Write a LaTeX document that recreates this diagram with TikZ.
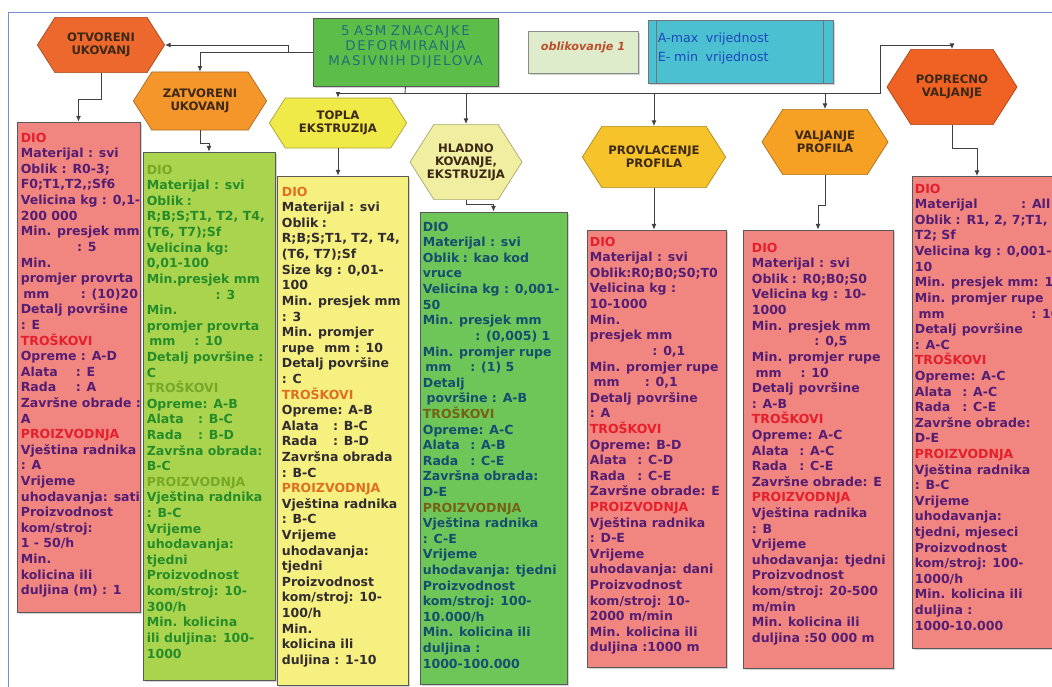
\documentclass[tikz,border=0pt]{standalone}
\usepackage{fontspec}
\setmainfont{DejaVu Sans}
\usetikzlibrary{arrows.meta, shapes.symbols, fit, shadows}
\definecolor{pinkbox}{RGB}{241,133,128}
\definecolor{pinktext}{RGB}{85,30,115}
\definecolor{pinkhead}{RGB}{228,32,45}
\definecolor{limebox}{RGB}{170,212,78}
\definecolor{limetext}{RGB}{38,140,42}
\definecolor{limehead}{RGB}{120,168,40}
\definecolor{yellowbox}{RGB}{246,240,128}
\definecolor{yellowtext}{RGB}{48,44,48}
\definecolor{yellowhead}{RGB}{222,112,32}
\definecolor{greenbox}{RGB}{110,198,88}
\definecolor{greentext}{RGB}{22,78,112}
\definecolor{greenhead}{RGB}{118,98,22}
\definecolor{maingreen}{RGB}{92,190,72}
\definecolor{maintext}{RGB}{34,112,118}
\definecolor{oblbox}{RGB}{222,236,204}
\definecolor{obltext}{RGB}{188,78,44}
\definecolor{keybox}{RGB}{74,192,208}
\definecolor{keytext}{RGB}{30,72,190}
\definecolor{hextext}{RGB}{60,40,20}
\definecolor{otvcol}{RGB}{236,104,44}
\definecolor{zatcol}{RGB}{245,150,42}
\definecolor{toplacol}{RGB}{240,234,72}
\definecolor{hladcol}{RGB}{240,238,160}
\definecolor{provcol}{RGB}{246,196,42}
\definecolor{valjcol}{RGB}{246,160,36}
\definecolor{popcol}{RGB}{240,98,36}
\definecolor{framecol}{RGB}{120,142,205}
\newcommand{\hd}[2]{{\color{#1}#2}}
\newcommand{\lbl}[2][4.1em]{\makebox[#1][l]{#2}}

\begin{document}
\begin{tikzpicture}[x=0.025cm, y=-0.025cm,
  hexa/.style={signal, signal to=east and west, signal pointer angle=115,
    draw=#1!70!black, fill=#1, line width=0.5pt, inner sep=1pt, text=hextext,
    font=\fontsize{8.3}{9.3}\selectfont\bfseries, align=center},
  box/.style={draw=black!65, fill=#1, line width=0.6pt, inner sep=0pt,
    drop shadow={shadow xshift=1.2pt, shadow yshift=-1.2pt, opacity=0.35}},
  dtxt/.style={anchor=north west, inner sep=0pt, align=left,
    font=\fontsize{8.9}{11.1}\selectfont\bfseries},
  conn/.style={draw=black!75, line width=0.6pt},
  arr/.style={conn, -{Latex[length=4pt, width=3.5pt]}}]
\useasboundingbox (0,0) rectangle (1052,686);
\clip (0,0) rectangle (1052,686);
% Frame
\draw[framecol, line width=0.6pt] (8,690) -- (8,12) -- (1060,12);
% Title and keys
\node[box=maingreen, fit={(313,18) (498,86)}, text=maintext,
  font=\fontsize{9.5}{10.7}\selectfont\addfontfeature{LetterSpace=12}, align=center]
  (main) {5 ASM ZNACAJKE\\DEFORMIRANJA\\MASIVNIH DIJELOVA};
\node[box=oblbox, draw=black!45, fit={(528,31) (638,73)}, text=obltext,
  font=\fontsize{8}{9}\selectfont\bfseries\itshape] (obl) {oblikovanje 1};
\node[box=keybox, draw=black!55, fit={(648,20) (833,83)}] (key) {};
\draw[black!55, line width=0.6pt] ([shift={(9,0)}]key.north west) -- ([shift={(9,0)}]key.south west);
\draw[black!55, line width=0.6pt] ([shift={(-10,0)}]key.north east) -- ([shift={(-10,0)}]key.south east);
\node[anchor=north west, inner sep=0pt, align=left, text=keytext,
  font=\fontsize{9}{13.5}\selectfont] (keytxt) at ([shift={(10,13)}]key.north west)
  {A-max\hspace{0.6em}vrijednost\\E-\hspace{0.3em}min\hspace{0.6em}vrijednost};
% Processes
\node[hexa=otvcol, minimum width=3.18cm, minimum height=1.38cm] (otv) at (101,45) {OTVORENI\\UKOVANJ};
\node[hexa=zatcol, minimum width=3.33cm, minimum height=1.45cm] (zat) at (200,101) {ZATVORENI\\UKOVANJ};
\node[hexa=toplacol, minimum width=3.43cm, minimum height=1.25cm] (topla) at (338,123) {TOPLA\\EKSTRUZIJA};
\node[hexa=hladcol, inner xsep=-6pt, minimum width=2.8cm, minimum height=1.88cm] (hlad) at (466,162) {HLADNO\\KOVANJE,\\EKSTRUZIJA};
\node[hexa=provcol, minimum width=3.58cm, minimum height=1.53cm] (prov) at (654,157) {PROVLACENJE\\PROFILA};
\node[hexa=valjcol, minimum width=3.15cm, minimum height=1.63cm] (valj) at (825,142) {VALJANJE\\PROFILA};
\node[hexa=popcol, minimum width=3.25cm, minimum height=1.88cm] (pop) at (952,87) {POPRECNO\\VALJANJE};
% Boxes
\node[box=pinkbox, fit={(17,122) (140,612)}] (b1) {};
\node[box=limebox, fit={(143,152) (275,680)}] (b2) {};
\node[box=yellowbox, fit={(277,176) (408,685)}] (b3) {};
\node[box=greenbox, fit={(420,212) (567,684)}] (b4) {};
\node[box=pinkbox, fit={(587,230) (726,667)}] (b5) {};
\node[box=pinkbox, fit={(743,230) (893,668)}] (b6) {};
\node[box=pinkbox, fit={(912,176) (1080,648)}] (b7) {};
% Texts
\node[dtxt, text=pinktext] (t1) at ([shift={(4,11)}]b1.north west) {
\hd{pinkhead}{DIO}\\
Materijal : svi\\
Oblik : R0-3;\\
F0;T1,T2,;Sf6\\
Velicina kg : 0,1-\\
200 000\\
Min. presjek mm\\
\hspace*{4.5em}: 5\\
Min.\\
promjer provrta\\
\hspace*{0.2em}\lbl[4.6em]{mm}: (10)20\\
Detalj površine\\
: E\\
\hd{pinkhead}{TROŠKOVI}\\
Opreme : A-D\\
\lbl[4.4em]{Alata}: E\\
\lbl[4.4em]{Rada}: A\\
Završne obrade :\\
A\\
\hd{pinkhead}{PROIZVODNJA}\\
Vještina radnika\\
: A\\
Vrijeme\\
uhodavanja: sati\\
Proizvodnost\\
kom/stroj:\\
1 - 50/h\\
Min.\\
kolicina ili\\
duljina (m) : 1};
\node[dtxt, text=limetext] (t2) at ([shift={(4,13)}]b2.north west) {
\hd{limehead}{DIO}\\
Materijal : svi\\
\lbl[3.2em]{Oblik}:\\
R;B;S;T1, T2, T4,\\
(T6, T7);Sf\\
Velicina kg:\\
0,01-100\\
Min.presjek mm\\
\hspace*{5.5em}: 3\\
Min.\\
promjer provrta\\
\hspace*{0.2em}\lbl[3.6em]{mm}: 10\\
Detalj površine :\\
C\\
\hd{limehead}{TROŠKOVI}\\
Opreme: A-B\\
\lbl{Alata}: B-C\\
\lbl{Rada}: B-D\\
Završna obrada:\\
B-C\\
\hd{limehead}{PROIZVODNJA}\\
Vještina radnika\\
: B-C\\
Vrijeme\\
uhodavanja:\\
tjedni\\
Proizvodnost\\
kom/stroj: 10-\\
300/h\\
Min. kolicina\\
ili duljina: 100-\\
1000};
\node[dtxt, text=yellowtext] (t3) at ([shift={(5,11)}]b3.north west) {
\hd{yellowhead}{DIO}\\
Materijal : svi\\
\lbl[3.2em]{Oblik}:\\
R;B;S;T1, T2, T4,\\
(T6, T7);Sf\\
Size kg : 0,01-\\
100\\
Min. presjek mm\\
: 3\\
Min. promjer\\
rupe\hspace*{0.8em}mm : 10\\
Detalj površine\\
: C\\
\hd{yellowhead}{TROŠKOVI}\\
Opreme: A-B\\
\lbl{Alata}: B-C\\
\lbl{Rada}: B-D\\
Završna obrada\\
: B-C\\
\hd{yellowhead}{PROIZVODNJA}\\
Vještina radnika\\
: B-C\\
Vrijeme\\
uhodavanja:\\
tjedni\\
Proizvodnost\\
kom/stroj: 10-\\
100/h\\
Min.\\
kolicina ili\\
duljina : 1-10};
\node[dtxt, text=greentext] (t4) at ([shift={(3,10)}]b4.north west) {
DIO\\
Materijal : svi\\
\lbl[3.2em]{Oblik}: kao kod\\
vruce\\
Velicina kg : 0,001-\\
50\\
Min. presjek mm\\
\hspace*{4.2em}: (0,005) 1\\
Min. promjer rupe\\
\hspace*{0.2em}\lbl[3.6em]{mm}: (1) 5\\
Detalj\\
\hspace*{0.3em}površine : A-B\\
\hd{greenhead}{TROŠKOVI}\\
Opreme: A-C\\
\lbl[3.8em]{Alata}: A-B\\
\lbl[3.8em]{Rada}: C-E\\
Završna obrada:\\
D-E\\
\hd{greenhead}{PROIZVODNJA}\\
Vještina radnika\\
: C-E\\
Vrijeme\\
uhodavanja: tjedni\\
Proizvodnost\\
kom/stroj: 100-\\
10.000/h\\
Min. kolicina ili\\
duljina :\\
1000-100.000};
\node[dtxt, text=pinktext] (t5) at ([shift={(3,7)}]b5.north west) {
\hd{pinkhead}{DIO}\\
Materijal : svi\\
Oblik:R0;B0;S0;T0\\
Velicina kg :\\
10-1000\\
Min.\\
presjek mm\\
\hspace*{5em}: 0,1\\
Min. promjer rupe\\
\hspace*{0.3em}\lbl[4.1em]{mm}: 0,1\\
Detalj\hspace*{0.4em}površine\\
: A\\
\hd{pinkhead}{TROŠKOVI}\\
Opreme: B-D\\
\lbl[3.8em]{Alata}: C-D\\
\lbl[3.8em]{Rada}: C-E\\
Završne obrade: E\\
\hd{pinkhead}{PROIZVODNJA}\\
Vještina radnika\\
: D-E\\
Vrijeme\\
uhodavanja: dani\\
Proizvodnost\\
kom/stroj: 10-\\
2000 m/min\\
Min. kolicina ili\\
duljina :1000 m};
\node[dtxt, text=pinktext] (t6) at ([shift={(9,13)}]b6.north west) {
\hd{pinkhead}{DIO}\\
Materijal : svi\\
\lbl[3.2em]{Oblik}: R0;B0;S0\\
Velicina kg : 10-\\
1000\\
Min. presjek mm\\
\hspace*{5em}: 0,5\\
Min. promjer rupe\\
\hspace*{0.3em}\lbl[3.6em]{mm}: 10\\
Detalj\hspace*{0.4em}površine\\
: A-B\\
\hd{pinkhead}{TROŠKOVI}\\
Opreme: A-C\\
\lbl[3.8em]{Alata}: A-C\\
\lbl[3.8em]{Rada}: C-E\\
Završne obrade: E\\
\hd{pinkhead}{PROIZVODNJA}\\
Vještina radnika\\
: B\\
Vrijeme\\
uhodavanja: tjedni\\
Proizvodnost\\
kom/stroj: 20-500\\
m/min\\
Min. kolicina ili\\
duljina :50 000 m};
\node[dtxt, text=pinktext] (t7) at ([shift={(3,8)}]b7.north west) {
\hd{pinkhead}{DIO}\\
\lbl[8.5em]{Materijal}: All\\
Oblik : R1, 2, 7;T1,\\
T2; Sf\\
Velicina kg : 0,001-\\
10\\
Min. presjek mm: 1\\
Min. promjer rupe\\
\hspace*{0.3em}\lbl[9em]{mm}: 10\\
Detalj\hspace*{0.4em}površine\\
: A-C\\
\hd{pinkhead}{TROŠKOVI}\\
Opreme: A-C\\
\lbl[3.8em]{Alata}: A-C\\
\lbl[3.8em]{Rada}: C-E\\
Završne obrade:\\
D-E\\
\hd{pinkhead}{PROIZVODNJA}\\
Vještina radnika\\
: B-C\\
Vrijeme\\
uhodavanja:\\
tjedni, mjeseci\\
Proizvodnost\\
kom/stroj: 100-\\
1000/h\\
Min. kolicina ili\\
duljina :\\
1000-10.000};
% Title to processes
\coordinate (j1) at (288,52);
\coordinate (bus) at (405,93);
\coordinate (k) at (880,45);
\draw[arr] (main.west) -| (zat.north);
\draw[arr] (j1) |- (otv.east);
\draw[conn] (main.south) -- (bus);
\draw[arr] (bus) -| (topla.north);
\draw[arr] (bus) -| (hlad.north);
\draw[arr] (bus) -| (prov.north);
\draw[arr] (bus) -| (valj.north);
\draw[arr] (bus) -| (k) -| (pop.north);
% Processes to boxes
\coordinate (c7) at (977,176);
\draw[arr] (otv.south) -- ++(0,26) -| (b1.north);
\draw[arr] (zat.south) -- ++(0,13) -| (b2.north);
\draw[arr] (topla.south) -- (topla.south |- b3.north);
\draw[arr] (hlad.south) -- ++(0,4) -| (b4.north);
\draw[arr] (prov.south) -- (prov.south |- b5.north);
\draw[arr] (valj.south) -- ++(0,30) -| (b6.north);
\draw[arr] (pop.south) -- ++(0,23) -| (c7);
\end{tikzpicture}
\end{document}
